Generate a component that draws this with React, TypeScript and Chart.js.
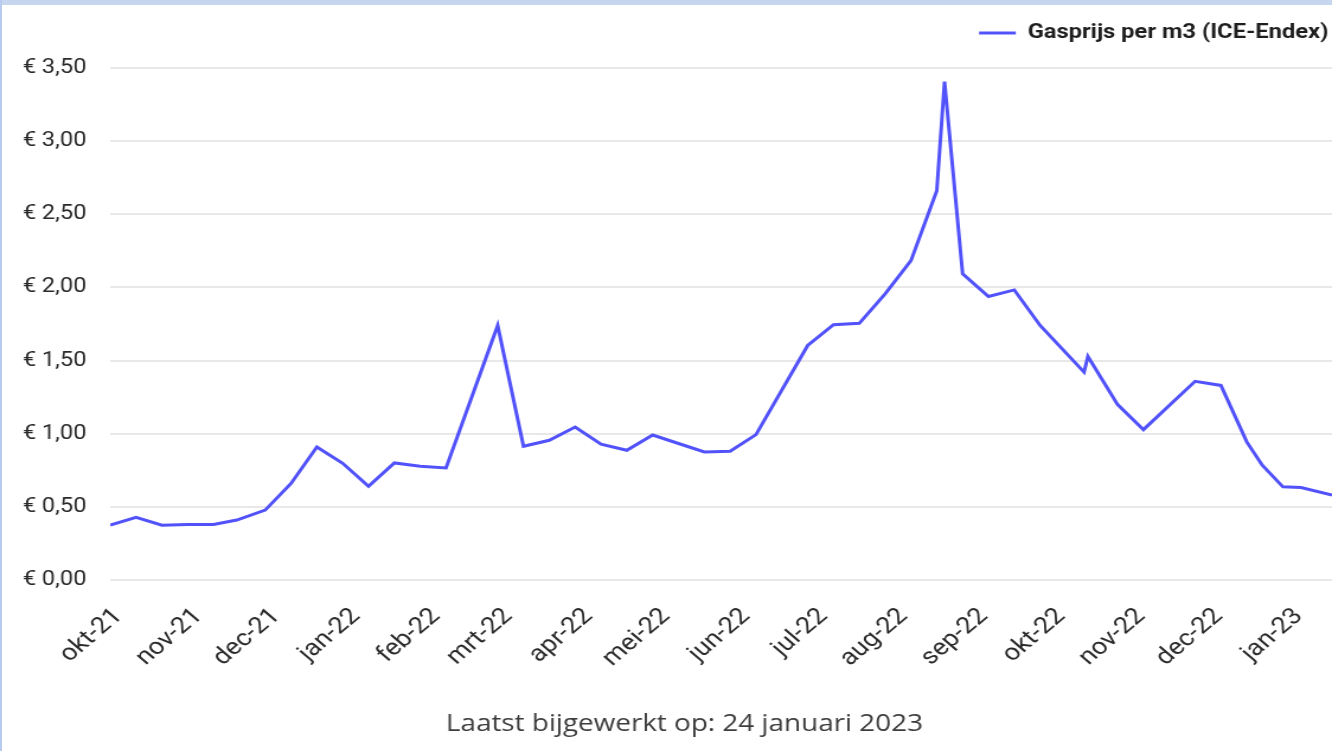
import React, { useEffect, useRef } from "react";
import { Chart, registerables } from "chart.js";

Chart.register(...registerables);

// Month tick labels and their day offsets from 1 Oct 2021
const monthLabels = [
  "okt-21", "nov-21", "dec-21", "jan-22", "feb-22", "mrt-22", "apr-22", "mei-22",
  "jun-22", "jul-22", "aug-22", "sep-22", "okt-22", "nov-22", "dec-22", "jan-23",
];
const monthStartDays = [0, 31, 61, 92, 123, 151, 182, 212, 243, 273, 304, 335, 365, 396, 426, 457];

// Sample dates (days since 1 Oct 2021) and gas price per m3 (EUR)
const sampleDays = [
  0, 10, 20, 30, 40, 49, 60, 70, 80, 90, 100, 110, 120, 130, 150, 160, 170, 180, 190, 200,
  210, 220, 230, 240, 250, 270, 280, 290, 300, 310, 320, 323, 330, 340, 350, 360, 377, 378.5,
  390, 400, 420, 430, 440, 446, 454, 461, 473,
];
const gasPrices = [
  0.375, 0.428, 0.375, 0.379, 0.38, 0.41, 0.478, 0.66, 0.909, 0.798, 0.641, 0.8, 0.778, 0.766,
  1.74, 0.914, 0.955, 1.046, 0.928, 0.887, 0.991, 0.933, 0.875, 0.88, 0.994, 1.603, 1.745,
  1.755, 1.956, 2.183, 2.661, 3.407, 2.093, 1.938, 1.983, 1.74, 1.421, 1.528, 1.199, 1.028,
  1.358, 1.33, 0.944, 0.785, 0.637, 0.632, 0.58,
];

const seriesLabel = "Gasprijs per m3 (ICE-Endex)";
const footerText = "Laatst bijgewerkt op: 24 januari 2023";
const yMin = 0;
const yMax = 3.5;
const yStep = 0.5;
const xMin = 0;
const xMax = 473;

const CANVAS_W = 1124; // internal width, stretched to 1332 css px
const CANVAS_H = 751;
const LINE_COLOR = "#5252fa";

export default function App() {
  const canvasRef = useRef<HTMLCanvasElement | null>(null);

  useEffect(() => {
    document.body.style.margin = "0";
    const canvas = canvasRef.current;
    if (!canvas) return;

    const legendSpacing = {
      id: "legendSpacing",
      beforeInit(chart: any) {
        const legend = chart.legend;
        if (!legend) return;
        const origFit = legend.fit;
        legend.fit = function fit() {
          origFit.call(this);
          this.height += 15;
        };
      },
    };

    const footerPlugin = {
      id: "footerText",
      afterDraw(chart: any) {
        const ctx = chart.ctx;
        ctx.save();
        ctx.font = "400 23.5px 'Open Sans'";
        ctx.fillStyle = "#3c3c3c";
        ctx.textAlign = "center";
        ctx.textBaseline = "alphabetic";
        ctx.fillText(footerText, 577.6, 731);
        ctx.restore();
      },
    };

    const chart = new Chart(canvas, {
      type: "line",
      data: {
        datasets: [
          {
            label: seriesLabel,
            data: sampleDays.map((d, i) => ({ x: d, y: gasPrices[i] })),
            borderColor: LINE_COLOR,
            backgroundColor: LINE_COLOR,
            borderWidth: 3,
            pointRadius: 0,
            pointHoverRadius: 0,
            tension: 0,
            fill: false,
          },
        ],
      },
      options: {
        responsive: false,
        animation: false,
        devicePixelRatio: 1,
        layout: { padding: { top: 20, left: 0, right: 0, bottom: 71 } },
        plugins: {
          legend: {
            position: "top",
            align: "end",
            labels: {
              usePointStyle: true,
              pointStyle: "line",
              pointStyleWidth: 31,
              padding: 3,
              color: "#1e1e1e",
              font: { family: "Roboto", size: 20, weight: "bold" },
            },
          },
          tooltip: { enabled: false },
          title: { display: false },
        },
        scales: {
          x: {
            type: "linear",
            min: xMin,
            max: xMax,
            grid: { display: false, drawTicks: false },
            border: { display: false },
            afterBuildTicks: (scale: any) => {
              scale.ticks = monthStartDays.map((v) => ({ value: v }));
            },
            afterFit: (scale: any) => {
              scale.height = 100;
              scale.paddingLeft = 0;
              scale.paddingRight = 0;
            },
            ticks: {
              autoSkip: false,
              maxRotation: 45,
              minRotation: 45,
              padding: 23,
              labelOffset: 7,
              color: "#2a2a2a",
              font: { family: "Roboto", size: 23 },
              callback: (v: any) => {
                const i = monthStartDays.indexOf(Number(v));
                return i >= 0 ? monthLabels[i] : "";
              },
            },
          },
          y: {
            min: yMin,
            max: yMax,
            grid: { color: "#e8e8e8", lineWidth: 2, drawTicks: false },
            border: { display: false },
            afterFit: (scale: any) => {
              scale.width = 93;
            },
            ticks: {
              stepSize: yStep,
              padding: 20,
              color: "#2a2a2a",
              font: { family: "Roboto", size: 20 },
              callback: (v: any) => "€ " + Number(v).toFixed(2).replace(".", ","),
            },
          },
        },
      },
      plugins: [legendSpacing, footerPlugin],
    });

    return () => {
      chart.destroy();
    };
  }, []);

  return (
    <div
      style={{
        position: "relative",
        width: 1332,
        height: 751,
        background: "#ffffff",
        overflow: "hidden",
      }}
    >
      <canvas
        ref={canvasRef}
        width={CANVAS_W}
        height={CANVAS_H}
        style={{ position: "absolute", left: 0, top: 0, width: "1332px", height: "751px" }}
      />
      <div
        style={{ position: "absolute", left: 0, top: 0, width: 1332, height: 5, background: "#c6d6ee" }}
      />
      <div
        style={{ position: "absolute", left: 0, top: 0, width: 2, height: 751, background: "#b6cbee" }}
      />
    </div>
  );
}
